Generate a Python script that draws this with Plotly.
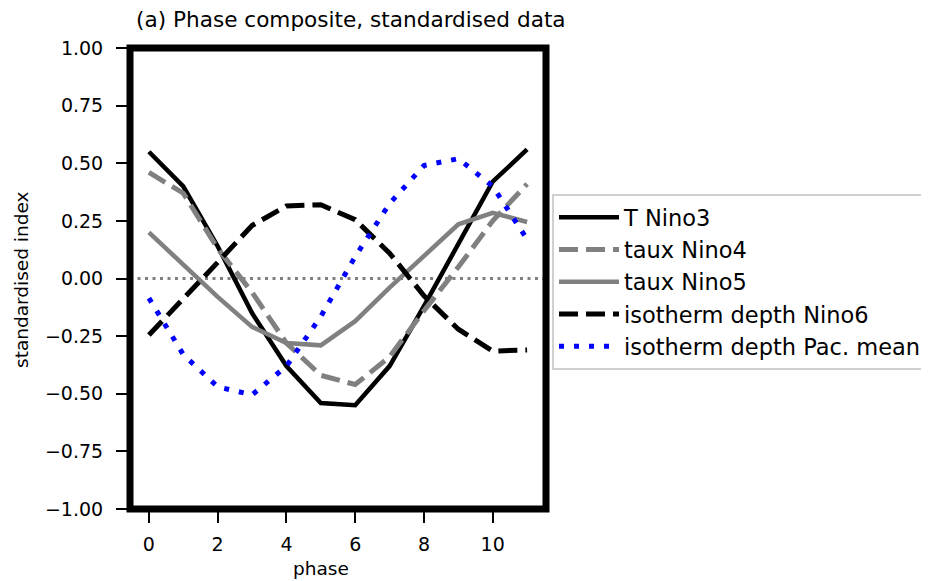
import plotly.graph_objects as go

phase = list(range(12))

t_nino3 = [0.55, 0.40, 0.14, -0.15, -0.38, -0.54, -0.55, -0.38, -0.12, 0.15, 0.42, 0.56]
taux_nino4 = [0.46, 0.37, 0.13, -0.06, -0.28, -0.42, -0.46, -0.34, -0.14, 0.05, 0.25, 0.41]
taux_nino5 = [0.20, 0.06, -0.08, -0.21, -0.28, -0.29, -0.185, -0.04, 0.10, 0.235, 0.285, 0.245]
iso_nino6 = [-0.245, -0.09, 0.07, 0.23, 0.315, 0.32, 0.255, 0.11, -0.075, -0.22, -0.315, -0.31]
iso_pac = [-0.085, -0.33, -0.47, -0.505, -0.38, -0.165, 0.095, 0.325, 0.49, 0.52, 0.40, 0.17]

series_names = ["T Nino3", "taux Nino4", "taux Nino5", "isotherm depth Nino6", "isotherm depth Pac. mean"]

xtick_vals = [0, 2, 4, 6, 8, 10]
xtick_text = ["0", "2", "4", "6", "8", "10"]
ytick_vals = [1.0, 0.75, 0.5, 0.25, 0.0, -0.25, -0.5, -0.75, -1.0]
ytick_text = ["1.00", "0.75", "0.50", "0.25", "0.00", "\u22120.25", "\u22120.50", "\u22120.75", "\u22121.00"]
zero_level = 0.0

styles = [
    dict(color="#000000", width=4.5, dash="solid"),
    dict(color="#808080", width=5, dash="19px,8px"),
    dict(color="#808080", width=4.5, dash="solid"),
    dict(color="#000000", width=5, dash="19px,8px"),
    dict(color="#0000ff", width=5, dash="5px,10px"),
]
data = [t_nino3, taux_nino4, taux_nino5, iso_nino6, iso_pac]

fig = go.Figure()
for name, ys, st in zip(series_names, data, styles):
    fig.add_trace(go.Scatter(x=phase, y=ys, mode="lines", name=name, line=st))

FONT = "DejaVu Sans"
OFF = 8  # page body margin in the browser
W, H = 929 - OFF, 581 - OFF
L = 130 - OFF
R = 929 - 546
T = 48 - OFF
B = 72
pw, ph = W - L - R, H - T - B

def px(xp):
    return (xp - OFF - L) / pw

def py(yp):
    return (H - B - (yp - OFF)) / ph

fig.update_layout(
    width=W, height=H,
    margin=dict(l=L, r=R, t=T, b=B, pad=0, autoexpand=False),
    paper_bgcolor="white", plot_bgcolor="white",
    font=dict(family=FONT, color="black", size=19),
    showlegend=True,
    legend=dict(
        xref="container", yref="container",
        x=(552 - OFF) / W, y=1 - (194 - OFF) / H, xanchor="left", yanchor="top",
        font=dict(family=FONT, size=22.5, color="black"),
        bgcolor="white", bordercolor="#d0d0d0", borderwidth=2,
        itemwidth=60,
    ),
    xaxis=dict(
        range=[-0.55, 11.55], showgrid=False, zeroline=False, showline=False,
        tickmode="array", tickvals=xtick_vals, ticktext=xtick_text,
        ticks="outside", ticklen=13, tickwidth=2, tickcolor="black",
        ticklabelstandoff=5, automargin=False,
        tickfont=dict(family=FONT, size=19, color="black"),
    ),
    yaxis=dict(
        range=[-1.0, 1.0], showgrid=False, zeroline=False, showline=False,
        tickmode="array", tickvals=ytick_vals, ticktext=ytick_text,
        ticks="outside", ticklen=13, tickwidth=2, tickcolor="black",
        ticklabelstandoff=9, automargin=False,
        tickfont=dict(family=FONT, size=19, color="black"),
    ),
    shapes=[
        dict(type="line", xref="x domain", yref="y", x0=0, x1=1, y0=zero_level, y1=zero_level,
             line=dict(color="#808080", width=3, dash="3px,4.5px"), layer="below"),
        dict(type="rect", xref="x domain", yref="y domain", x0=0, x1=1, y0=0, y1=1,
             line=dict(color="black", width=7), layer="above"),
    ],
    annotations=[
        dict(text="(a) Phase composite, standardised data", xref="paper", yref="paper",
             x=px(351), y=py(19), xanchor="center", yanchor="middle", showarrow=False,
             font=dict(family=FONT, size=21.6, color="black")),
        dict(text="phase", xref="paper", yref="paper",
             x=px(320.5), y=py(568), xanchor="center", yanchor="middle", showarrow=False,
             font=dict(family=FONT, size=18.5, color="black")),
        dict(text="standardised index", xref="paper", yref="paper", textangle=-90,
             x=px(21), y=py(280), xanchor="center", yanchor="middle", showarrow=False,
             font=dict(family=FONT, size=18.5, color="black")),
    ],
)

fig.write_html("out.html")
